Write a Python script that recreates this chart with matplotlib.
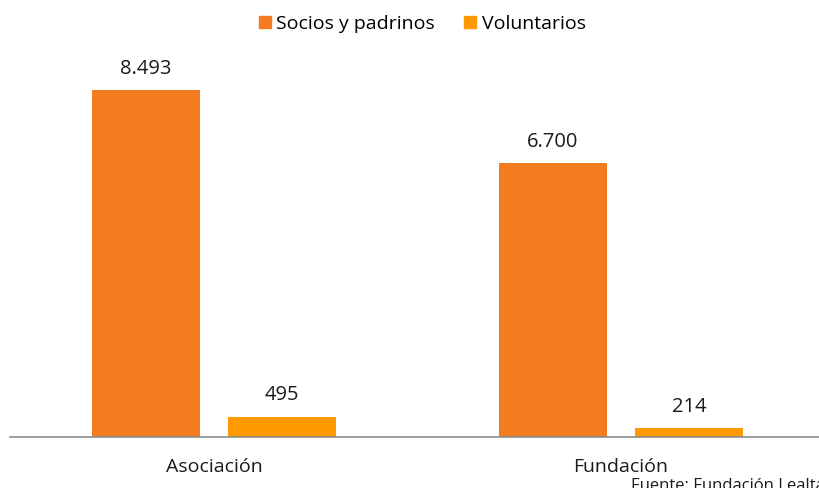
import numpy as np
import matplotlib
matplotlib.use('Agg')
import matplotlib.pyplot as plt
from matplotlib.patches import Patch

plt.rcParams['font.family'] = ['Open Sans', 'DejaVu Sans']

categories = ['Asociación', 'Fundación']
socios = [8493, 6700]
voluntarios = [495, 214]
series_names = ['Socios y padrinos', 'Voluntarios']
colors = ['#F47B20', '#FF9900']


def fmt(v):
    return f'{v:,}'.replace(',', '.')


fig = plt.figure(figsize=(8.2, 4.88), dpi=100)
ax = fig.add_axes([10 / 820, 51 / 488, 810 / 820, 377 / 488])

x = np.arange(len(categories))
w = 0.265
off = 0.167
b1 = ax.bar(x - off, socios, w, color=colors[0])
b2 = ax.bar(x + off, voluntarios, w, color=colors[1])

for bars, vals in [(b1, socios), (b2, voluntarios)]:
    for rect, v in zip(bars, vals):
        ax.text(rect.get_x() + rect.get_width() / 2, v + 280, fmt(v),
                ha='center', va='bottom', fontsize=14.5, color='#1a1a1a')

ax.set_xlim(-0.501, 1.489)
ax.set_ylim(0, 9227)
ax.set_yticks([])
ax.set_xticks(x)
ax.set_xticklabels(categories, fontsize=14, color='#1a1a1a')
ax.tick_params(axis='x', length=0, pad=15)
for s in ['top', 'right', 'left']:
    ax.spines[s].set_visible(False)
ax.spines['bottom'].set_color('#8c8c8c')
ax.spines['bottom'].set_linewidth(1.2)

handles = [Patch(color=c, label=n) for c, n in zip(colors, series_names)]
fig.legend(handles=handles, loc='center', bbox_to_anchor=(0.515, 0.951),
           ncol=2, frameon=False, fontsize=14, handlelength=0.6,
           handleheight=0.6, handletextpad=0.3, columnspacing=1.5)

fig.text(631 / 820, -6 / 488, 'Fuente: Fundación Lealtad', fontsize=12,
         color='#1a1a1a', ha='left', va='bottom')

fig.savefig('out.png', dpi=100)
